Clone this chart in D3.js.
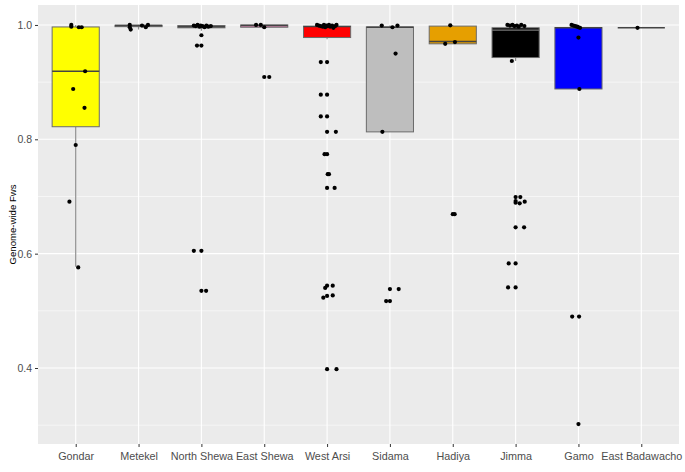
<!DOCTYPE html>
<html>
<head>
<meta charset="utf-8">
<script src="https://cdn.jsdelivr.net/npm/d3@7"></script>
<style>
  html, body { margin: 0; padding: 0; background: #fff; }
  svg { display: block; }
</style>
</head>
<body>
<svg id="chart" width="685" height="472"></svg>
<script>
// ---------- DATA ----------
const categories = ["Gondar","Metekel","North Shewa","East Shewa","West Arsi","Sidama","Hadiya","Jimma","Gamo","East Badawacho"];
const fillColors = ["#FFFF00","#555555","#555555","#E38AB8","#FF0000","#BEBEBE","#E69F00","#000000","#0000FF","#555555"];

// box statistics
const q1Values      = [0.822, 0.997, 0.995, 0.996, 0.978, 0.813, 0.967, 0.943, 0.888, 0.995];
const medianValues  = [0.919, 0.999, 0.997, 0.999, 0.997, 0.996, 0.971, 0.991, 0.995, 0.995];
const q3Values      = [0.9965, 0.9995, 0.999, 1.000, 0.998, 0.9965, 0.998, 0.995, 0.9955, 0.995];
const whiskerLow    = [0.577, 0.992, 0.990, 0.996, 0.975, 0.813, 0.967, 0.937, 0.888, 0.995];
const whiskerHigh   = [1.000, 1.000, 1.000, 1.000, 1.000, 0.999, 0.9995, 1.000, 1.000, 0.995];

// individual sample values (Fws) per region
const gondarFws   = [1.0, 0.997, 0.996, 0.996, 0.919, 0.888, 0.855, 0.790, 0.691, 0.576];
const metekelFws  = [1.0, 0.996, 0.992, 0.999, 0.996, 1.0];
const nShewaFws   = [0.999,0.998,1.0,0.997,0.999,0.998,0.996,0.999,0.997,0.998,0.982,0.964,0.964,0.605,0.605,0.535,0.535];
const eShewaFws   = [1.0, 1.0, 0.996, 0.909, 0.909];
const wArsiFws    = [1.0,0.999,0.998,0.997,1.0,0.996,0.999,0.998,1.0,0.997,0.999,0.995,0.998,1.0,
                     0.935,0.935,0.878,0.878,0.840,0.840,0.813,0.813,0.774,0.774,0.739,0.739,0.715,0.715,
                     0.544,0.544,0.540,0.527,0.526,0.523,0.398,0.398];
const sidamaFws   = [0.999,0.996,0.999,0.950,0.813,0.538,0.538,0.517,0.517];
const hadiyaFws   = [0.9993,0.967,0.970,0.669,0.669];
const jimmaFws    = [1.0,0.999,1.0,0.998,0.999,0.997,1.0,0.998,0.937,0.699,0.699,0.692,0.689,0.688,0.691,0.646,0.646,0.583,0.583,0.541,0.541];
const gamoFws     = [1.0,0.999,0.998,0.997,0.996,0.995,0.978,0.888,0.490,0.490,0.302];
const eBadaFws    = [0.995];

// horizontal jitter of each sample (fraction of category step)
const gondarJit   = [-0.07,-0.07,0.05,0.095,0.15,-0.04,0.14,0,-0.1,0.04];
const metekelJit  = [-0.14,-0.14,-0.125,0.055,0.115,0.15];
const nShewaJit   = [-0.12,-0.09,-0.06,-0.03,-0.01,0.02,0.05,0.08,0.11,0.15,0.0,-0.07,0.0,-0.12,0.0,0.0,0.075];
const eShewaJit   = [-0.13,-0.055,0,0,0.08];
const wArsiJit    = [-0.16,-0.13,-0.1,-0.07,-0.05,-0.03,-0.01,0.01,0.03,0.05,0.08,0.1,0.13,0.15,
                     -0.1,0,-0.1,0,-0.1,0,0,0.14,-0.04,0,0.01,0.03,0,0.12,0,0.09,-0.03,0.09,0,-0.06,0,0.15];
const sidamaJit   = [-0.13,0.04,0.12,0.09,-0.12,0,0.14,-0.06,0.0];
const hadiyaJit   = [-0.04,-0.12,0.035,0.0,0.03];
const jimmaJit    = [-0.13,-0.09,-0.05,-0.02,0.02,0.05,0.09,0.14,-0.06,0,0.075,0,0,0.065,0.145,0,0.135,-0.11,0,-0.12,0];
const gamoJit     = [-0.11,-0.08,-0.05,-0.02,0.0,0.025,0,0.015,-0.1,0.01,0];
const eBadaJit    = [-0.06];

const yTicks = [0.4, 0.6, 0.8, 1.0];
const yMinor = [0.3, 0.5, 0.7, 0.9];
const yTitle = "Genome-wide Fws";

// ---------- BUILD ----------
const samples = [gondarFws, metekelFws, nShewaFws, eShewaFws, wArsiFws, sidamaFws, hadiyaFws, jimmaFws, gamoFws, eBadaFws];
const jitters = [gondarJit, metekelJit, nShewaJit, eShewaJit, wArsiJit, sidamaJit, hadiyaJit, jimmaJit, gamoJit, eBadaJit];

const boxes = categories.map((c, i) => ({
  cat: c, fill: fillColors[i], q1: q1Values[i], med: medianValues[i], q3: q3Values[i],
  lo: whiskerLow[i], hi: whiskerHigh[i]
}));
const points = [];
categories.forEach((c, i) => samples[i].forEach((v, k) => points.push({cat: c, v, j: jitters[i][k]})));

const svg = d3.select("#chart");
const panel = {left: 38, top: 5, right: 679, bottom: 444};

const allVals = points.map(p => p.v);
const [vmin, vmax] = d3.extent(allVals);
const pad = (vmax - vmin) * 0.05;
const y = d3.scaleLinear().domain([vmin - pad, vmax + pad]).range([panel.bottom, panel.top]);

const x = d3.scalePoint().domain(categories).range([panel.left, panel.right]).padding(0.6);
const step = x.step();
const boxW = step * 0.75;

// panel background
svg.append("rect").attr("x", panel.left).attr("y", panel.top)
  .attr("width", panel.right - panel.left).attr("height", panel.bottom - panel.top)
  .attr("fill", "#EBEBEB");

// grid
const grid = svg.append("g");
grid.selectAll(".minor").data(yMinor).join("line")
  .attr("x1", panel.left).attr("x2", panel.right)
  .attr("y1", d => y(d)).attr("y2", d => y(d))
  .attr("stroke", "#fff").attr("stroke-width", 0.55);
grid.selectAll(".major").data(yTicks).join("line")
  .attr("x1", panel.left).attr("x2", panel.right)
  .attr("y1", d => y(d)).attr("y2", d => y(d))
  .attr("stroke", "#fff").attr("stroke-width", 1.1);
grid.selectAll(".vmajor").data(categories).join("line")
  .attr("x1", d => x(d)).attr("x2", d => x(d))
  .attr("y1", panel.top).attr("y2", panel.bottom)
  .attr("stroke", "#fff").attr("stroke-width", 1.1);

// boxplots
const bx = svg.append("g");
const outline = "#6b6b6b";
const whiskerColor = "#8f8f8f";
bx.selectAll(".wlo").data(boxes).join("line")
  .attr("x1", d => x(d.cat)).attr("x2", d => x(d.cat))
  .attr("y1", d => y(d.q1)).attr("y2", d => y(d.lo))
  .attr("stroke", whiskerColor).attr("stroke-width", 1.2);
bx.selectAll(".whi").data(boxes).join("line")
  .attr("x1", d => x(d.cat)).attr("x2", d => x(d.cat))
  .attr("y1", d => y(d.q3)).attr("y2", d => y(d.hi))
  .attr("stroke", whiskerColor).attr("stroke-width", 1.2);
bx.selectAll(".box").data(boxes).join("rect")
  .attr("x", d => x(d.cat) - boxW / 2).attr("width", boxW)
  .attr("y", d => y(d.q3)).attr("height", d => Math.max(0, y(d.q1) - y(d.q3)))
  .attr("fill", d => d.fill).attr("stroke", outline).attr("stroke-width", 1);
bx.selectAll(".med").data(boxes).join("line")
  .attr("x1", d => x(d.cat) - boxW / 2).attr("x2", d => x(d.cat) + boxW / 2)
  .attr("y1", d => y(d.med)).attr("y2", d => y(d.med))
  .attr("stroke", d => d.fill === "#000000" ? "#777" : "#444").attr("stroke-width", 1.4);

// jittered points
svg.append("g").selectAll("circle").data(points).join("circle")
  .attr("cx", d => x(d.cat) + d.j * step)
  .attr("cy", d => y(d.v))
  .attr("r", 2.1)
  .attr("fill", "#000");

// axes
const yAxis = svg.append("g").attr("transform", `translate(${panel.left},0)`)
  .call(d3.axisLeft(y).tickValues(yTicks).tickFormat(d3.format(".1f")).tickSize(3).tickPadding(3));
yAxis.select(".domain").remove();
yAxis.selectAll(".tick line").attr("stroke", "#333").attr("stroke-width", 1);
yAxis.selectAll(".tick text").attr("fill", "#4D4D4D")
  .style("font-family", "'Liberation Sans', Arial, sans-serif").style("font-size", "10.5px");

const xAxis = svg.append("g").attr("transform", `translate(0,${panel.bottom})`)
  .call(d3.axisBottom(x).tickSize(3).tickPadding(5));
xAxis.select(".domain").remove();
xAxis.selectAll(".tick line").attr("stroke", "#333").attr("stroke-width", 1);
xAxis.selectAll(".tick text").attr("fill", "#4D4D4D")
  .style("font-family", "'Liberation Sans', Arial, sans-serif").style("font-size", "10.8px");

svg.append("text")
  .attr("transform", `translate(13,${(panel.top + panel.bottom) / 2}) rotate(-90)`)
  .attr("text-anchor", "middle").attr("dominant-baseline", "middle")
  .style("font-family", "'Liberation Sans', Arial, sans-serif").style("font-size", "9.6px")
  .attr("fill", "#000")
  .text(yTitle);
</script>
</body>
</html>
